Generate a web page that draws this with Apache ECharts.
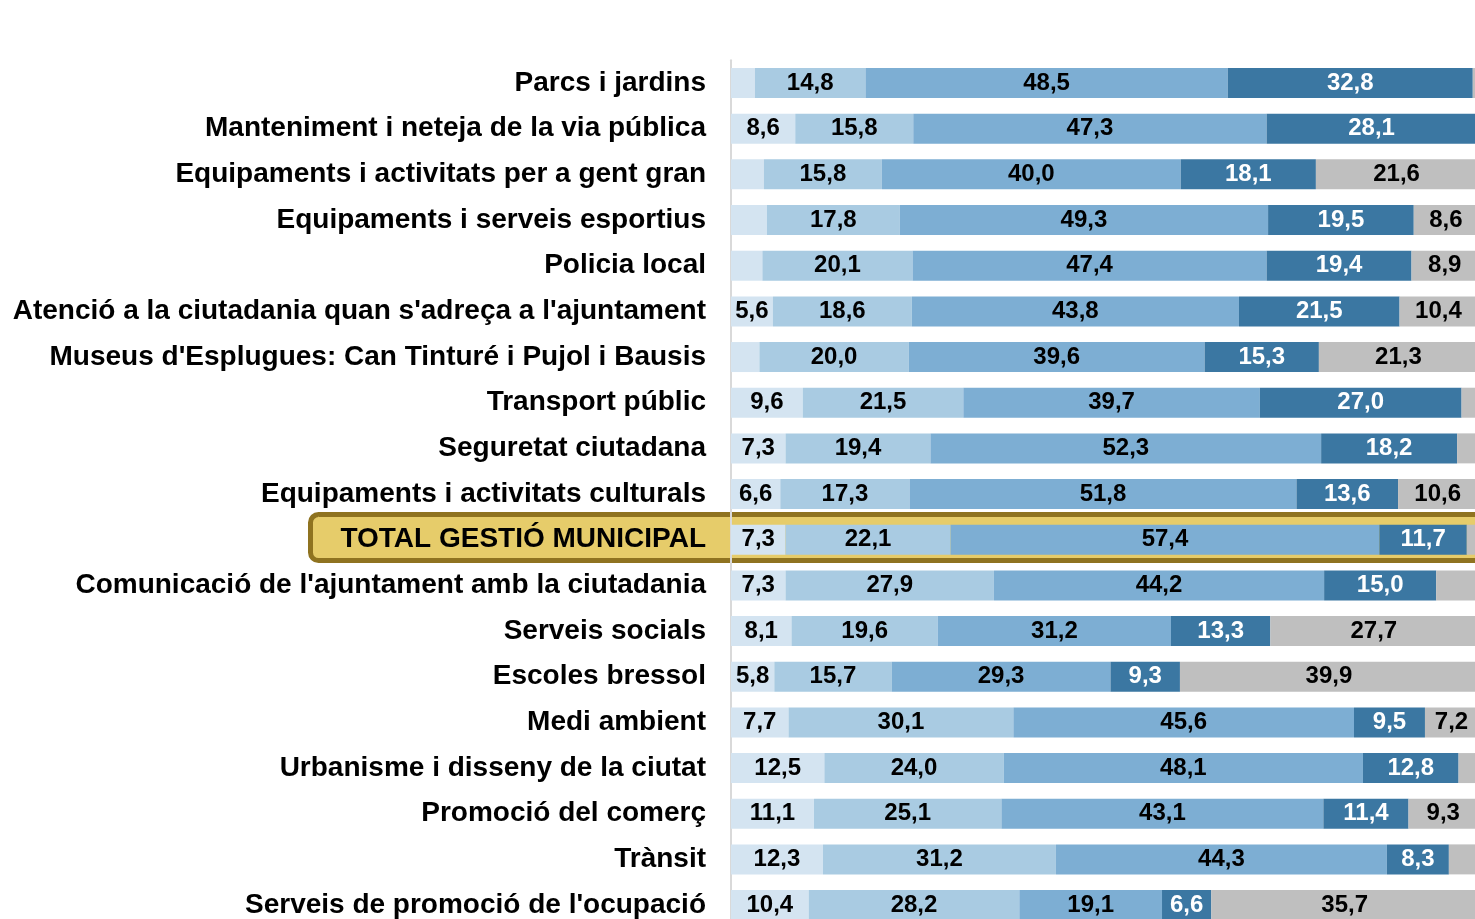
<!DOCTYPE html>
<html>
<head>
<meta charset="utf-8">
<script src="https://cdn.jsdelivr.net/npm/echarts@6/dist/echarts.min.js"></script>
<style>
  html, body { margin: 0; padding: 0; background: #fff; }
  #chart { width: 1475px; height: 919px; }
</style>
</head>
<body>
<div id="chart"></div>
<script>
// categories, top to bottom
const categories = [
  'Parcs i jardins',
  'Manteniment i neteja de la via pública',
  'Equipaments i activitats per a gent gran',
  'Equipaments i serveis esportius',
  'Policia local',
  "Atenció a la ciutadania quan s'adreça a l'ajuntament",
  "Museus d'Esplugues: Can Tinturé i Pujol i Bausis",
  'Transport públic',
  'Seguretat ciutadana',
  'Equipaments i activitats culturals',
  'TOTAL GESTIÓ MUNICIPAL',
  "Comunicació de l'ajuntament amb la ciutadania",
  'Serveis socials',
  'Escoles bressol',
  'Medi ambient',
  'Urbanisme i disseny de la ciutat',
  'Promoció del comerç',
  'Trànsit',
  "Serveis de promoció de l'ocupació"
];
const highlightCat = 'TOTAL GESTIÓ MUNICIPAL';

// segments (%), same order as categories
const seg1 = [3.2, 8.6, 4.4, 4.8, 4.2, 5.6, 3.8, 9.6, 7.3, 6.6, 7.3, 7.3, 8.1, 5.8, 7.7, 12.5, 11.1, 12.3, 10.4];
const seg2 = [14.8, 15.8, 15.8, 17.8, 20.1, 18.6, 20.0, 21.5, 19.4, 17.3, 22.1, 27.9, 19.6, 15.7, 30.1, 24.0, 25.1, 31.2, 28.2];
const seg3 = [48.5, 47.3, 40.0, 49.3, 47.4, 43.8, 39.6, 39.7, 52.3, 51.8, 57.4, 44.2, 31.2, 29.3, 45.6, 48.1, 43.1, 44.3, 19.1];
const seg4 = [32.8, 28.1, 18.1, 19.5, 19.4, 21.5, 15.3, 27.0, 18.2, 13.6, 11.7, 15.0, 13.3, 9.3, 9.5, 12.8, 11.4, 8.3, 6.6];
const seg5 = [0.7, 0.2, 21.6, 8.6, 8.9, 10.4, 21.3, 2.2, 2.8, 10.6, 1.5, 5.4, 27.7, 39.9, 7.2, 2.6, 9.3, 3.9, 35.7];

const colors = ['#d4e4f1', '#a9cbe2', '#7daed3', '#3b77a2', '#bfbfbf'];
const labelColors = ['#000', '#000', '#000', '#fff', '#000'];

const chart = echarts.init(document.getElementById('chart'));

const makeSeries = (data, i) => ({
  type: 'bar',
  stack: 'total',
  barWidth: 30,
  data: data,
  itemStyle: { color: colors[i] },
  label: {
    show: true,
    position: 'inside',
    color: labelColors[i],
    fontFamily: 'Liberation Sans',
    fontWeight: 'bold',
    fontSize: 24,
    formatter: p => p.value >= 5.5 ? p.value.toFixed(1).replace('.', ',') : ''
  }
});

chart.setOption({
  animation: false,
  grid: { left: 731, top: 60.2, width: 747, height: 867.7, outerBoundsMode: 'none' },
  xAxis: {
    type: 'value',
    min: 0,
    max: 100,
    show: false
  },
  yAxis: {
    type: 'category',
    data: categories,
    inverse: true,
    axisLine: { show: true, lineStyle: { color: '#d9d9d9', width: 2 } },
    axisTick: { show: false },
    axisLabel: {
      color: '#000',
      fontFamily: 'Liberation Sans',
      fontWeight: 'bold',
      fontSize: 28,
      margin: 25
    }
  },
  series: [seg1, seg2, seg3, seg4, seg5].map(makeSeries)
});

// gold highlight band behind the total row
const yc = chart.convertToPixel({ yAxisIndex: 0 }, highlightCat);
chart.setOption({
  graphic: [{
    type: 'rect',
    z: -1,
    shape: { x: 310.5, y: yc - 25.2, width: 1300, height: 46, r: 8 },
    style: { fill: '#e6cc6a', stroke: '#8f7320', lineWidth: 5 }
  }]
});
</script>
</body>
</html>
